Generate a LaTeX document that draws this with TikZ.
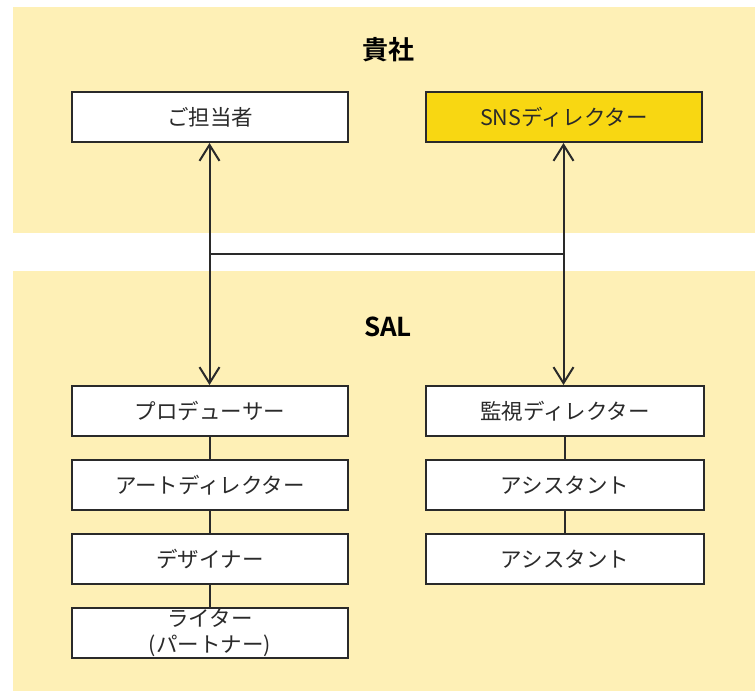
\documentclass[tikz,border=0pt]{standalone}
\usepackage{fontspec}
\setmainfont{Noto Sans CJK JP}
\newfontfamily\jpbold{Noto Sans CJK JP Bold}
\usetikzlibrary{arrows.meta}
\definecolor{band}{HTML}{FEF0B6}
\definecolor{hilite}{HTML}{F8D712}
\definecolor{ink}{HTML}{2A2A2A}
\tikzset{
  rolebox/.style={draw=ink, line width=2pt, fill=white, minimum width=276pt, minimum height=50pt, inner sep=0pt, font=\fontsize{21.5}{25}\selectfont, text=ink, align=center},
  conn/.style={draw=ink, line width=2pt},
  tip/.style={{Straight Barb[length=16pt,width=20pt]}-{Straight Barb[length=16pt,width=20pt]}},
  title/.style={font=\jpbold\fontsize{26}{30}\selectfont, text=black}
}
\begin{document}
\begin{tikzpicture}[x=1pt,y=-1pt]
\useasboundingbox (0,0) rectangle (755,691);
\fill[white] (0,0) rectangle (755,691);
\fill[band] (13,7) rectangle (755,233);
\fill[band] (13,271) rectangle (755,691);
\node[title] (t1) at (388,50) {貴社};
\node[title] (t2) at (388,327) {SAL};
\node[rolebox] (a) at (210,117) {ご担当者};
\node[rolebox, fill=hilite] (b) at (564,117) {SNSディレクター};
\node[rolebox] (p1) at (210,411) {プロデューサー};
\node[rolebox] (p2) at (210,485) {アートディレクター};
\node[rolebox] (p3) at (210,559) {デザイナー};
\node[rolebox, font=\fontsize{21.5}{26}\selectfont] (p4) at (210,633) {ライター\\(パートナー)};
\node[rolebox, minimum width=278pt] (q1) at (565,411) {監視ディレクター};
\node[rolebox, minimum width=278pt] (q2) at (565,485) {アシスタント};
\node[rolebox, minimum width=278pt] (q3) at (565,559) {アシスタント};
\coordinate (h1) at (209.5,254);
\coordinate (h2) at (563.5,254);
\draw[conn, tip] (209.5,143) -- (209.5,385);
\draw[conn, tip] (563.5,143) -- (563.5,385);
\draw[conn] (h1) -- (h2);
\draw[conn] (p1) -- (p2);
\draw[conn] (p2) -- (p3);
\draw[conn] (p3) -- (p4);
\draw[conn] (q1) -- (q2);
\draw[conn] (q2) -- (q3);
\end{tikzpicture}
\end{document}
